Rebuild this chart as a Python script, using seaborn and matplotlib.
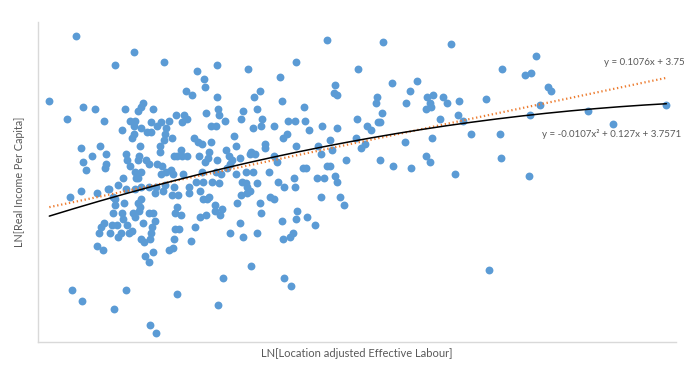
import numpy as np
import matplotlib
matplotlib.use("Agg")
import matplotlib.pyplot as plt
import seaborn as sns

# LN[Location adjusted Effective Labour]
labour = [
    -1.23, -0.65, -0.84, -0.35, -0.03, -1.49, -0.14, -0.08, -1.16, -1.04,
    -0.74, -0.56, -0.58, -0.61, -0.46, -1.31, -0.95, -0.69, -0.64, -0.48,
    -0.38, -0.30, -0.24, -0.16, -0.13, -0.18, -0.77, -0.65, -0.58, -0.42,
    -0.33, 1.26, 0.17, 0.48, 0.95, 1.57, 0.04, 0.05, 0.79, 1.34,
    1.36, 1.33, 0.60, 0.54, 0.17, 0.81, 1.03, 0.57, 0.18, 0.19,
    0.06, 0.43, 0.41, 0.62, 0.25, 0.87, 0.94, 1.04, 1.56, 0.11,
    0.16, 0.53, 0.61, 0.73, 1.08, 1.21, 1.36, 1.81, 2.49, 2.99,
    1.90, 2.15, 2.08, 2.31, 2.25, 2.28, 2.24, 2.29, 2.41, 2.45,
    2.57, 2.83, 1.75, 1.74, 2.04, 1.80, 1.76, 1.78, 2.38, 2.56,
    2.61, 1.66, 1.70, 3.33, 3.22, 3.28, 3.45, 3.48, 3.37, 3.27,
    3.84, 4.62, 4.09, -0.48, -0.52, -0.34, -0.35, -0.28, -0.65, -0.67,
    -0.06, -0.02, -0.59, -0.39, -0.39, -0.19, -0.18, -0.23, -0.26, -0.13,
    -0.73, -0.60, -0.72, -1.18, -0.99, -0.93, -1.07, -1.16, -1.13, -0.93,
    -0.94, -0.61, -0.53, -0.50, -0.69, -0.42, -0.37, -0.29, -0.33, -0.38,
    -0.27, -0.17, -0.58, -0.64, -0.61, -0.63, -0.76, -0.81, -0.90, -0.91,
    -1.02, -1.18, -1.29, -0.86, -0.84, -0.84, -0.75, -0.73, -0.64, -0.58,
    -0.50, -0.43, -0.44, -0.36, -0.34, -0.26, -0.28, -0.22, -0.11, -0.11,
    0.00, -0.58, -0.61, -0.59, -0.60, -0.86, -0.77, -0.66, -0.64, -0.76,
    -0.82, -0.95, -0.98, -0.87, -0.72, -0.67, -0.56, -0.50, -0.46, -0.44,
    -0.47, -0.48, -0.23, -0.25, -0.19, -0.21, -0.25, 0.00, -0.05, -1.00,
    -0.78, -0.70, -0.89, -0.81, -1.02, -0.96, -0.58, -0.55, -0.49, -0.26,
    -0.30, -0.27, -0.09, -0.54, -0.46, -0.50, -1.27, -1.17, -0.85, -0.73,
    -0.23, -0.49, -0.43, 0.34, 0.02, 0.11, 0.86, 0.82, 0.65, 0.65,
    0.36, 0.26, 0.95, 1.17, 1.29, 1.31, 1.20, 0.09, -0.01, 0.08,
    0.05, 0.17, 0.29, 0.32, 0.30, 0.40, 0.51, 0.55, 0.50, 0.73,
    0.76, 1.45, 1.02, 1.05, 1.26, 1.29, 0.02, 0.16, 0.21, 0.27,
    0.36, 0.46, 0.53, 0.69, 0.93, 1.16, 1.23, 1.34, 1.36, -0.04,
    0.03, 0.12, 0.19, 0.42, 0.46, 0.57, 0.47, 0.50, 0.41, 0.47,
    0.77, 0.83, 0.94, 0.70, 0.73, 1.20, 1.39, 1.43, 0.03, 0.09,
    0.07, 0.37, 0.60, 0.15, 0.22, 0.06, 0.20, 0.15, 0.61, 0.96,
    1.06, 0.95, 0.81, 0.40, 1.14, 0.30, 0.57, 0.92, 0.43, 0.82,
    0.89, 0.51, 0.23, 0.83, 0.90, 0.18, 1.55, 1.64, 1.60, 2.03,
    2.30, 2.69, 2.97, 1.78, 1.91, 2.09, 2.24, 2.28, 2.53, 2.98,
    3.26, 2.86,
]

# LN[Real Income Per Capita]
income = [
    4.46, 4.38, 4.31, 4.33, 4.28, 4.13, 4.18, 4.16, 4.10, 4.09,
    4.09, 4.12, 4.10, 4.08, 4.09, 4.04, 4.03, 4.03, 4.03, 4.02,
    4.02, 4.03, 4.06, 4.06, 4.04, 4.02, 3.98, 4.00, 3.99, 4.00,
    3.99, 4.44, 4.31, 4.29, 4.33, 4.29, 4.24, 4.20, 4.25, 4.21,
    4.16, 4.17, 4.18, 4.15, 4.15, 4.13, 4.10, 4.09, 4.09, 4.06,
    4.07, 4.08, 4.04, 4.04, 4.03, 4.03, 4.03, 4.03, 4.04, 4.00,
    4.00, 3.99, 4.00, 4.00, 3.98, 4.00, 3.99, 4.43, 4.42, 4.29,
    4.22, 4.23, 4.18, 4.16, 4.15, 4.12, 4.09, 4.10, 4.15, 4.12,
    4.13, 4.14, 4.15, 4.12, 4.12, 4.07, 4.02, 4.02, 4.04, 4.06,
    4.03, 4.00, 3.98, 4.36, 4.26, 4.27, 4.20, 4.18, 4.11, 4.06,
    4.08, 4.11, 4.01, 3.97, 3.97, 3.96, 3.93, 3.94, 3.96, 3.94,
    3.94, 3.92, 3.90, 3.90, 3.87, 3.88, 3.85, 3.85, 3.85, 3.85,
    3.86, 3.85, 3.83, 3.89, 3.90, 3.86, 3.85, 3.82, 3.78, 3.81,
    3.79, 3.83, 3.83, 3.81, 3.80, 3.81, 3.80, 3.78, 3.77, 3.76,
    3.76, 3.76, 3.77, 3.77, 3.74, 3.74, 3.74, 3.70, 3.68, 3.68,
    3.66, 3.67, 3.64, 3.64, 3.63, 3.60, 3.61, 3.68, 3.68, 3.69,
    3.69, 3.69, 3.66, 3.67, 3.70, 3.69, 3.65, 3.65, 3.69, 3.66,
    3.67, 3.63, 3.61, 3.59, 3.57, 3.56, 3.56, 3.56, 3.54, 3.53,
    3.50, 3.51, 3.49, 3.50, 3.50, 3.47, 3.51, 3.56, 3.56, 3.52,
    3.49, 3.46, 3.59, 3.56, 3.55, 3.48, 3.48, 3.54, 3.49, 3.46,
    3.46, 3.46, 3.46, 3.44, 3.39, 3.37, 3.43, 3.41, 3.43, 3.43,
    3.37, 3.38, 3.42, 3.34, 3.36, 3.31, 3.17, 3.11, 3.07, 3.17,
    3.15, 2.99, 2.95, 3.95, 3.91, 3.92, 3.96, 3.94, 3.91, 3.89,
    3.90, 3.88, 3.90, 3.90, 3.93, 3.88, 3.86, 3.87, 3.85, 3.84,
    3.82, 3.83, 3.85, 3.83, 3.81, 3.84, 3.87, 3.86, 3.86, 3.85,
    3.82, 3.83, 3.79, 3.79, 3.80, 3.80, 3.77, 3.77, 3.76, 3.79,
    3.76, 3.77, 3.77, 3.77, 3.74, 3.74, 3.74, 3.75, 3.72, 3.72,
    3.72, 3.72, 3.71, 3.72, 3.71, 3.71, 3.69, 3.67, 3.65, 3.66,
    3.72, 3.69, 3.69, 3.64, 3.63, 3.64, 3.64, 3.60, 3.63, 3.64,
    3.63, 3.61, 3.61, 3.60, 3.58, 3.55, 3.55, 3.57, 3.56, 3.57,
    3.54, 3.53, 3.52, 3.51, 3.50, 3.46, 3.46, 3.46, 3.44, 3.43,
    3.44, 3.29, 3.23, 3.23, 3.19, 3.09, 3.94, 3.91, 3.89, 3.92,
    3.94, 3.96, 3.96, 3.83, 3.80, 3.79, 3.85, 3.82, 3.76, 3.84,
    3.75, 3.27,
]

# Excel trendline coefficients (highest power first)
lin_coef = [0.1076, 3.75]
poly_coef = [-0.0107, 0.127, 3.7571]
lin_label = "y = 0.1076x + 3.75"
poly_label = "y = -0.0107x² + 0.127x + 3.7571"

sns.set_theme(style="white")
plt.rcParams['font.family'] = ['Lato', 'DejaVu Sans']

fig = plt.figure(figsize=(6.87, 3.72), dpi=100)
ax = fig.add_axes([0.0553, 0.0806, 0.9287, 0.8603])

sns.scatterplot(x=labour, y=income, ax=ax, color="#5B9BD5", s=32,
                linewidth=0, zorder=2)

# trendlines span the data range
xs = np.linspace(min(labour), max(labour), 200)
sns.lineplot(x=xs, y=np.polyval(lin_coef, xs), ax=ax, color="#ED7D31",
             linewidth=1.6, linestyle=(0, (0.6, 1.2)), zorder=3)
sns.lineplot(x=xs, y=np.polyval(poly_coef, xs), ax=ax, color="black",
             linewidth=1.1, zorder=3)

ax.set_xlim(-1.602, 4.715)
ax.set_ylim(2.904, 4.531)
ax.set_xticks([])
ax.set_yticks([])
for side in ["top", "right"]:
    ax.spines[side].set_visible(False)
for side in ["left", "bottom"]:
    ax.spines[side].set_color("#D9D9D9")
    ax.spines[side].set_linewidth(1.0)

ax.text(1.014, 0.872, lin_label, transform=ax.transAxes, ha="right",
        va="center", fontsize=7, color="#595959", clip_on=False)
ax.text(1.008, 0.65, poly_label, transform=ax.transAxes, ha="right",
        va="center", fontsize=7, color="#595959", clip_on=False)

ax.set_xlabel("LN[Location adjusted Effective Labour]", fontsize=8,
              color="#595959", labelpad=4)
ax.set_ylabel("LN[Real Income Per Capita]", fontsize=7.75,
              color="#595959", labelpad=9)

fig.savefig("out.png", dpi=100)
